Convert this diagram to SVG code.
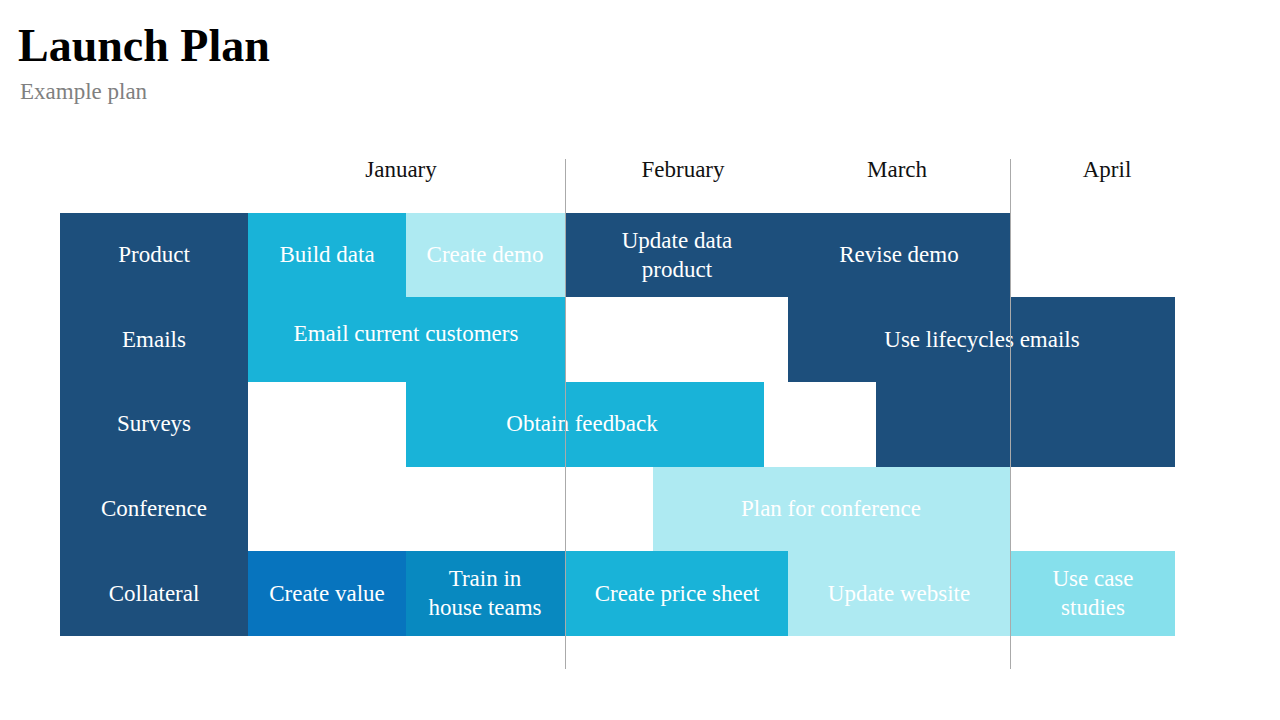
<svg xmlns="http://www.w3.org/2000/svg" width="1280" height="720" viewBox="0 0 1280 720">
<style>
.t{font-family:"Liberation Serif","Times New Roman",serif;font-size:23px;fill:#fff;text-anchor:middle}
.m{font-family:"Liberation Serif","Times New Roman",serif;font-size:23px;fill:#111;text-anchor:middle}
.dk{fill:#1d4f7c}.md{fill:#19b3d8}.lt{fill:#aeeaf2}
</style>
<rect width="1280" height="720" fill="#fff"/>
<text x="18" y="61" font-family="Liberation Serif,serif" font-weight="bold" font-size="46" fill="#000">Launch Plan</text>
<text x="20" y="99" font-family="Liberation Serif,serif" font-size="23" fill="#808080">Example plan</text>
<g id="months">
<text class="m" x="401" y="177">January</text>
<text class="m" x="683" y="177">February</text>
<text class="m" x="897" y="177">March</text>
<text class="m" x="1107" y="177">April</text>
</g>
<g id="categories">
<rect class="dk" x="60" y="213" width="188" height="423"/>
<text class="t" x="154" y="262">Product</text>
<text class="t" x="154" y="347">Emails</text>
<text class="t" x="154" y="431">Surveys</text>
<text class="t" x="154" y="516">Conference</text>
<text class="t" x="154" y="601">Collateral</text>
</g>
<g id="build"><rect class="md" x="248" y="213" width="158" height="84"/><text class="t" x="327" y="262">Build data</text></g>
<g id="demo"><rect class="lt" x="406" y="213" width="159" height="84"/><text class="t" x="485" y="262">Create demo</text></g>
<g id="update"><rect class="dk" x="565" y="213" width="223" height="84"/><text class="t" x="677" y="248">Update data</text><text class="t" x="677" y="277">product</text></g>
<g id="revise"><rect class="dk" x="788" y="213" width="222" height="84"/><text class="t" x="899" y="262">Revise demo</text></g>
<g id="email"><rect class="md" x="248" y="297" width="317" height="85"/><text class="t" x="406" y="341">Email current customers</text></g>
<g id="lifecycle"><path class="dk" d="M788 297H1175V467H876V382H788Z"/><text class="t" x="982" y="347">Use lifecycles emails</text></g>
<g id="feedback"><rect class="md" x="406" y="382" width="358" height="85"/><text class="t" x="582" y="431">Obtain feedback</text></g>
<g id="conf"><rect class="lt" x="653" y="467" width="357" height="84"/><text class="t" x="831" y="516">Plan for conference</text></g>
<g id="value"><rect fill="#0774be" x="248" y="551" width="158" height="85"/><text class="t" x="327" y="601">Create value</text></g>
<g id="train"><rect fill="#0889c0" x="406" y="551" width="159" height="85"/><text class="t" x="485" y="586">Train in</text><text class="t" x="485" y="615">house teams</text></g>
<g id="price"><rect class="md" x="565" y="551" width="223" height="85"/><text class="t" x="677" y="601">Create price sheet</text></g>
<g id="website"><rect class="lt" x="788" y="551" width="222" height="85"/><text class="t" x="899" y="601">Update website</text></g>
<g id="cases"><rect fill="#86e0ec" x="1010" y="551" width="165" height="85"/><text class="t" x="1093" y="586">Use case</text><text class="t" x="1093" y="615">studies</text></g>
<g id="connectors" stroke="#aaa" stroke-width="1">
<line x1="565.5" y1="159" x2="565.5" y2="669"/>
<line x1="1010.5" y1="159" x2="1010.5" y2="669"/>
</g>
</svg>
